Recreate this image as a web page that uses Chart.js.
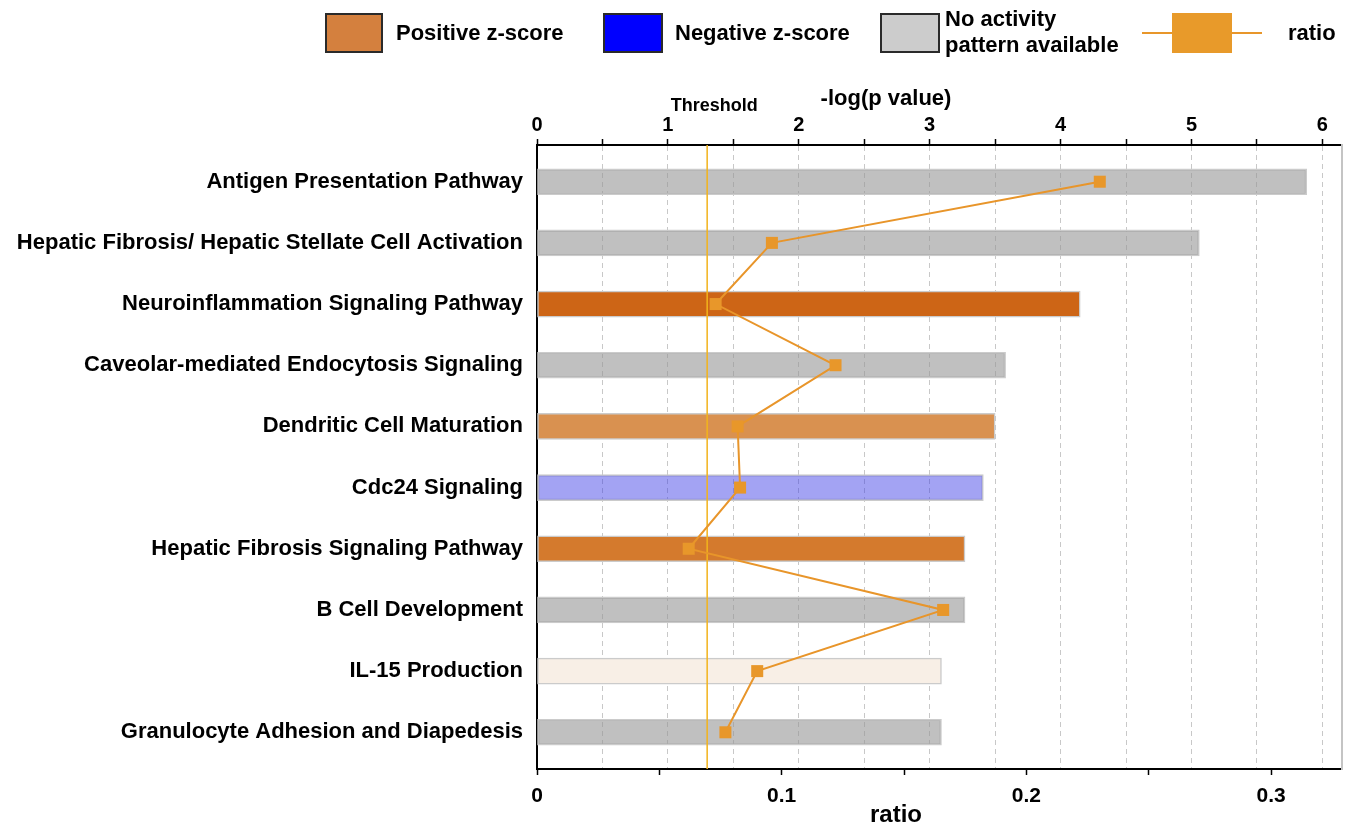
<!DOCTYPE html>
<html>
<head>
<meta charset="utf-8">
<script src="https://cdn.jsdelivr.net/npm/chart.js@4"></script>
<style>
  body { margin: 0; background: #fff; }
  #wrap { position: relative; width: 1347px; height: 827px; font-family: "Liberation Sans", Arial, sans-serif; }
  #myChart { position: absolute; left: 0; top: 0; }
  .lg { position: absolute; font-weight: bold; font-size: 22px; color: #000; line-height: 26px; }
  .box { position: absolute; box-sizing: border-box; height: 40px; top: 13px; border: 2px solid #2a2a2a; }
</style>
</head>
<body>
<div id="wrap">
  <canvas id="myChart" width="1347" height="827"></canvas>
  <div class="box" style="left:325px;width:58px;background:#d4803e"></div>
  <div class="lg" style="left:396px;top:20px">Positive z-score</div>
  <div class="box" style="left:603px;width:60px;background:#0000ff"></div>
  <div class="lg" style="left:675px;top:20px">Negative z-score</div>
  <div class="box" style="left:880px;width:60px;background:#cccccc"></div>
  <div class="lg" style="left:945px;top:6px">No activity<br>pattern available</div>
  <div style="position:absolute;left:1142px;top:32px;width:120px;height:2px;background:#e8962a"></div>
  <div style="position:absolute;left:1172px;top:13px;width:60px;height:40px;background:#e89a2a"></div>
  <div class="lg" style="left:1288px;top:20px">ratio</div>
</div>
<script>
// Voies canoniques (de haut en bas)
const pathways = [
    'Antigen Presentation Pathway',
    'Hepatic Fibrosis/ Hepatic Stellate Cell Activation',
    'Neuroinflammation Signaling Pathway',
    'Caveolar-mediated Endocytosis Signaling',
    'Dendritic Cell Maturation',
    'Cdc24 Signaling',
    'Hepatic Fibrosis Signaling Pathway',
    'B Cell Development',
    'IL-15 Production',
    'Granulocyte Adhesion and Diapedesis'
];
// -log(p value), axe du haut
const logP = [5.88, 5.06, 4.15, 3.58, 3.50, 3.41, 3.27, 3.27, 3.09, 3.09];
// ratio, axe du bas
const ratios = [0.230, 0.096, 0.073, 0.122, 0.082, 0.083, 0.062, 0.166, 0.090, 0.077];
// couleur selon le z-score
const barColors = [
    'rgba(150,150,150,0.6)',
    'rgba(150,150,150,0.6)',
    '#cd6516',
    'rgba(150,150,150,0.6)',
    '#d99150',
    'rgba(60,60,230,0.47)',
    '#d47a2d',
    'rgba(150,150,150,0.6)',
    '#f8efe6',
    'rgba(150,150,150,0.6)'
];
const threshold = 1.3;
const logPMax = 6.15;
const ratioMax = 0.329;

const FONT = '"Liberation Sans", Arial, sans-serif';

// textes supplémentaires : titres d'axes et "Threshold"
const textPlugin = {
    id: 'texts',
    afterDraw(chart) {
        const ctx = chart.ctx;
        const xs = chart.scales.x;
        ctx.save();
        ctx.fillStyle = '#000';
        ctx.textAlign = 'center';
        ctx.textBaseline = 'middle';
        ctx.font = 'bold 18px ' + FONT;
        ctx.fillText('Threshold', xs.getPixelForValue(threshold) + 7, 106);
        ctx.font = 'bold 22px ' + FONT;
        ctx.fillText('-log(p value)', 886, 99);
        ctx.font = 'bold 24px ' + FONT;
        ctx.fillText('ratio', 896, 815);
        ctx.restore();
    }
};

const ctx = document.getElementById('myChart').getContext('2d');
const myChart = new Chart(ctx, {
    type: 'bar',
    data: {
        datasets: [
            {
                type: 'line',
                label: 'ratio',
                data: ratios.map((v, i) => ({ x: v, y: i })),
                xAxisID: 'x2',
                yAxisID: 'y',
                indexAxis: 'y',
                borderColor: '#e8952a',
                borderWidth: 2,
                pointStyle: 'rect',
                pointRadius: 8.5,
                pointBackgroundColor: '#e8972a',
                pointBorderWidth: 0,
                order: 0
            },
            {
                type: 'line',
                label: 'Threshold',
                data: [{ x: threshold, y: -0.6 }, { x: threshold, y: 9.6 }],
                xAxisID: 'x',
                yAxisID: 'y',
                borderColor: '#f2b31c',
                borderWidth: 1.5,
                pointRadius: 0,
                order: 1
            },
            {
                label: '-log(p value)',
                data: logP.map((v, i) => ({ x: v, y: i })),
                xAxisID: 'x',
                yAxisID: 'y',
                backgroundColor: barColors,
                borderColor: '#cbcbcb',
                borderWidth: 1.5,
                borderSkipped: false,
                barThickness: 26,
                order: 2
            }
        ]
    },
    options: {
        responsive: false,
        animation: false,
        indexAxis: 'y',
        layout: { autoPadding: false, padding: { left: 0, right: 5, top: 0, bottom: 0 } },
        plugins: {
            legend: { display: false },
            tooltip: { enabled: false }
        },
        scales: {
            x: {
                type: 'linear',
                position: 'top',
                min: 0,
                max: logPMax,
                afterFit: s => { s.height = 145; },
                ticks: {
                    stepSize: 0.5,
                    includeBounds: false,
                    autoSkip: false,
                    maxRotation: 0,
                    padding: 2,
                    color: '#000',
                    font: { family: FONT, size: 20, weight: 'bold' },
                    callback: v => Number.isInteger(v) ? String(v) : ''
                },
                grid: {
                    color: ctx => ctx.tick && ctx.tick.value === 0 ? 'rgba(0,0,0,0)' : '#c8c8c8',
                    lineWidth: 1,
                    tickColor: '#000',
                    tickLength: 6,
                    tickWidth: 1.5
                },
                border: { display: true, color: '#000', width: 2, dash: [5, 4] }
            },
            x2: {
                type: 'linear',
                position: 'bottom',
                min: 0,
                max: ratioMax,
                afterFit: s => { s.height = 58; },
                ticks: {
                    stepSize: 0.05,
                    includeBounds: false,
                    autoSkip: false,
                    maxRotation: 0,
                    padding: 9,
                    color: '#000',
                    font: { family: FONT, size: 21, weight: 'bold' },
                    callback: v => {
                        const k = Math.round(v * 100);
                        if (k === 0) return '0';
                        return k % 10 === 0 ? (k / 100).toFixed(1) : '';
                    }
                },
                grid: {
                    drawOnChartArea: false,
                    tickColor: '#000',
                    tickLength: 6,
                    tickWidth: 1.5
                },
                border: { display: true, color: '#000', width: 2 }
            },
            y: {
                type: 'linear',
                position: 'left',
                reverse: true,
                offset: false,
                min: -0.6,
                max: 9.6,
                afterFit: s => { s.width = 537; },
                ticks: {
                    stepSize: 1,
                    includeBounds: false,
                    autoSkip: false,
                    padding: 14,
                    color: '#000',
                    font: { family: FONT, size: 22, weight: 'bold' },
                    callback: v => pathways[v] !== undefined ? pathways[v] : ''
                },
                grid: { display: false, drawTicks: false },
                border: { display: true, color: '#000', width: 2 }
            },
            yR: {
                type: 'linear',
                position: 'right',
                afterFit: s => { s.width = 0; },
                ticks: { display: false },
                grid: { display: false, drawTicks: false },
                border: { display: true, color: '#c4c4c4', width: 2 }
            }
        }
    },
    plugins: [textPlugin]
});
</script>
</body>
</html>
